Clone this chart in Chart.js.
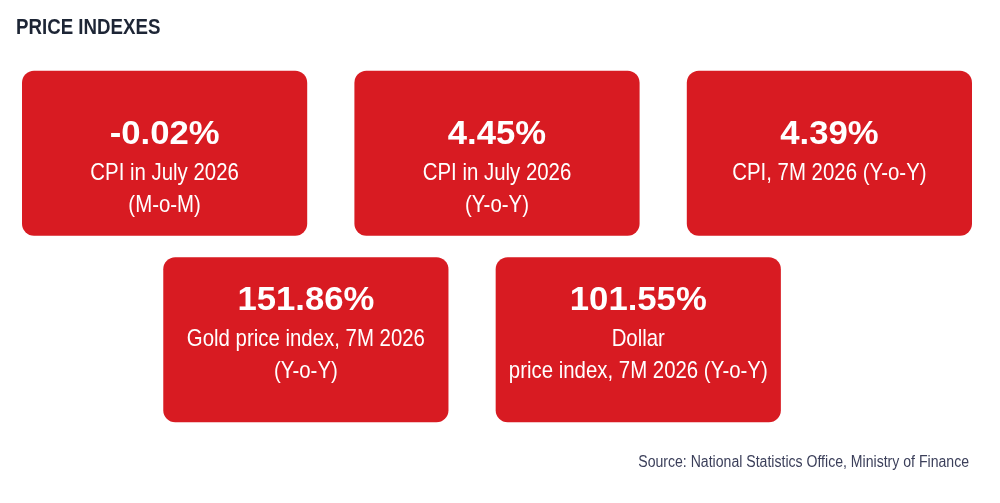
<!DOCTYPE html>
<html>
<head>
<meta charset="utf-8">
<script src="https://cdn.jsdelivr.net/npm/chart.js@4.4.1/dist/chart.umd.min.js"></script>
<style>
  html, body { margin: 0; padding: 0; background: #fff; }
  #wrap { width: 1000px; height: 503px; }
</style>
</head>
<body>
<div id="wrap"><canvas id="c"></canvas></div>
<script>
// headline figures, in reading order
const values = [-0.02, 4.45, 4.39, 151.86, 101.55];
const captions = [
  ['CPI in July 2026', '(M-o-M)'],
  ['CPI in July 2026', '(Y-o-Y)'],
  ['CPI, 7M 2026 (Y-o-Y)'],
  ['Gold price index, 7M 2026', '(Y-o-Y)'],
  ['Dollar', 'price index, 7M 2026 (Y-o-Y)']
];
const rows = ['row1', 'row2'];

// where each card sits (row, start slot)
const cardRow = [0, 0, 0, 1, 1];
const cardSlot = [0, 1, 2, 0.425, 1.425];
const cardWidth = 0.858;
const textTop = [64, 43];

const RED = '#d81b22';
const SANS = "'Liberation Sans', Arial, sans-serif";

// one dataset per column so the cards overlap in their row band
const datasets = [];
cardSlot.forEach((s, i) => {
  const col = i < 3 ? i : i - 3;
  if (!datasets[col]) {
    datasets[col] = {
      label: 'col' + col,
      data: rows.map(() => null),
      cards: rows.map(() => null),
      backgroundColor: RED,
      borderRadius: 12,
      borderSkipped: false,
      grouped: false,
      categoryPercentage: 1,
      barPercentage: 0.885
    };
  }
  datasets[col].data[cardRow[i]] = [s, s + cardWidth];
  datasets[col].cards[cardRow[i]] = i;
});

function fmt(v) {
  return v.toFixed(2) + '%';
}

// no condensed face installed, so squeeze the regular one
function squeezed(ctx, text, x, y, sx) {
  ctx.save();
  ctx.translate(x, y);
  ctx.scale(sx, 1);
  ctx.fillText(text, 0, 0);
  ctx.restore();
}

const cardText = {
  id: 'cardText',
  afterDatasetsDraw(chart) {
    const ctx = chart.ctx;
    ctx.save();
    ctx.fillStyle = '#fff';
    ctx.textAlign = 'center';
    ctx.textBaseline = 'middle';
    chart.data.datasets.forEach((ds, di) => {
      chart.getDatasetMeta(di).data.forEach((el, r) => {
        const idx = ds.cards[r];
        if (idx == null) return;
        const p = el.getProps(['x', 'y', 'base', 'height'], true);
        const cx = (p.x + p.base) / 2;
        const top = p.y - p.height / 2;
        let y = top + textTop[r];
        ctx.font = 'bold 34px ' + SANS;
        squeezed(ctx, fmt(values[idx]), cx, y, 1.02);
        ctx.font = '24px ' + SANS;
        y += 39;
        captions[idx].forEach(line => {
          squeezed(ctx, line, cx, y, 0.85);
          y += 32;
        });
      });
    });
    ctx.restore();
  },
  afterDraw(chart) {
    const ctx = chart.ctx;
    ctx.save();
    ctx.textBaseline = 'middle';
    ctx.fillStyle = '#1d2535';
    ctx.textAlign = 'left';
    ctx.font = 'bold 22px ' + SANS;
    squeezed(ctx, 'PRICE INDEXES', 16, 28, 0.85);
    ctx.fillStyle = '#3b3f5a';
    ctx.textAlign = 'right';
    ctx.font = '16px ' + SANS;
    squeezed(ctx, 'Source: National Statistics Office, Ministry of Finance', 969, 463, 0.88);
    ctx.restore();
  }
};

new Chart(document.getElementById('c'), {
  type: 'bar',
  data: { labels: rows, datasets: datasets },
  options: {
    indexAxis: 'y',
    responsive: true,
    maintainAspectRatio: false,
    animation: false,
    layout: { padding: { left: 22, right: 28, top: 60, bottom: 70 } },
    plugins: {
      legend: { display: false },
      title: { display: false },
      tooltip: { enabled: false }
    },
    scales: {
      x: { type: 'linear', min: 0, max: 2 + cardWidth, display: false },
      y: { display: false, offset: true }
    }
  },
  plugins: [cardText]
});
</script>
</body>
</html>
